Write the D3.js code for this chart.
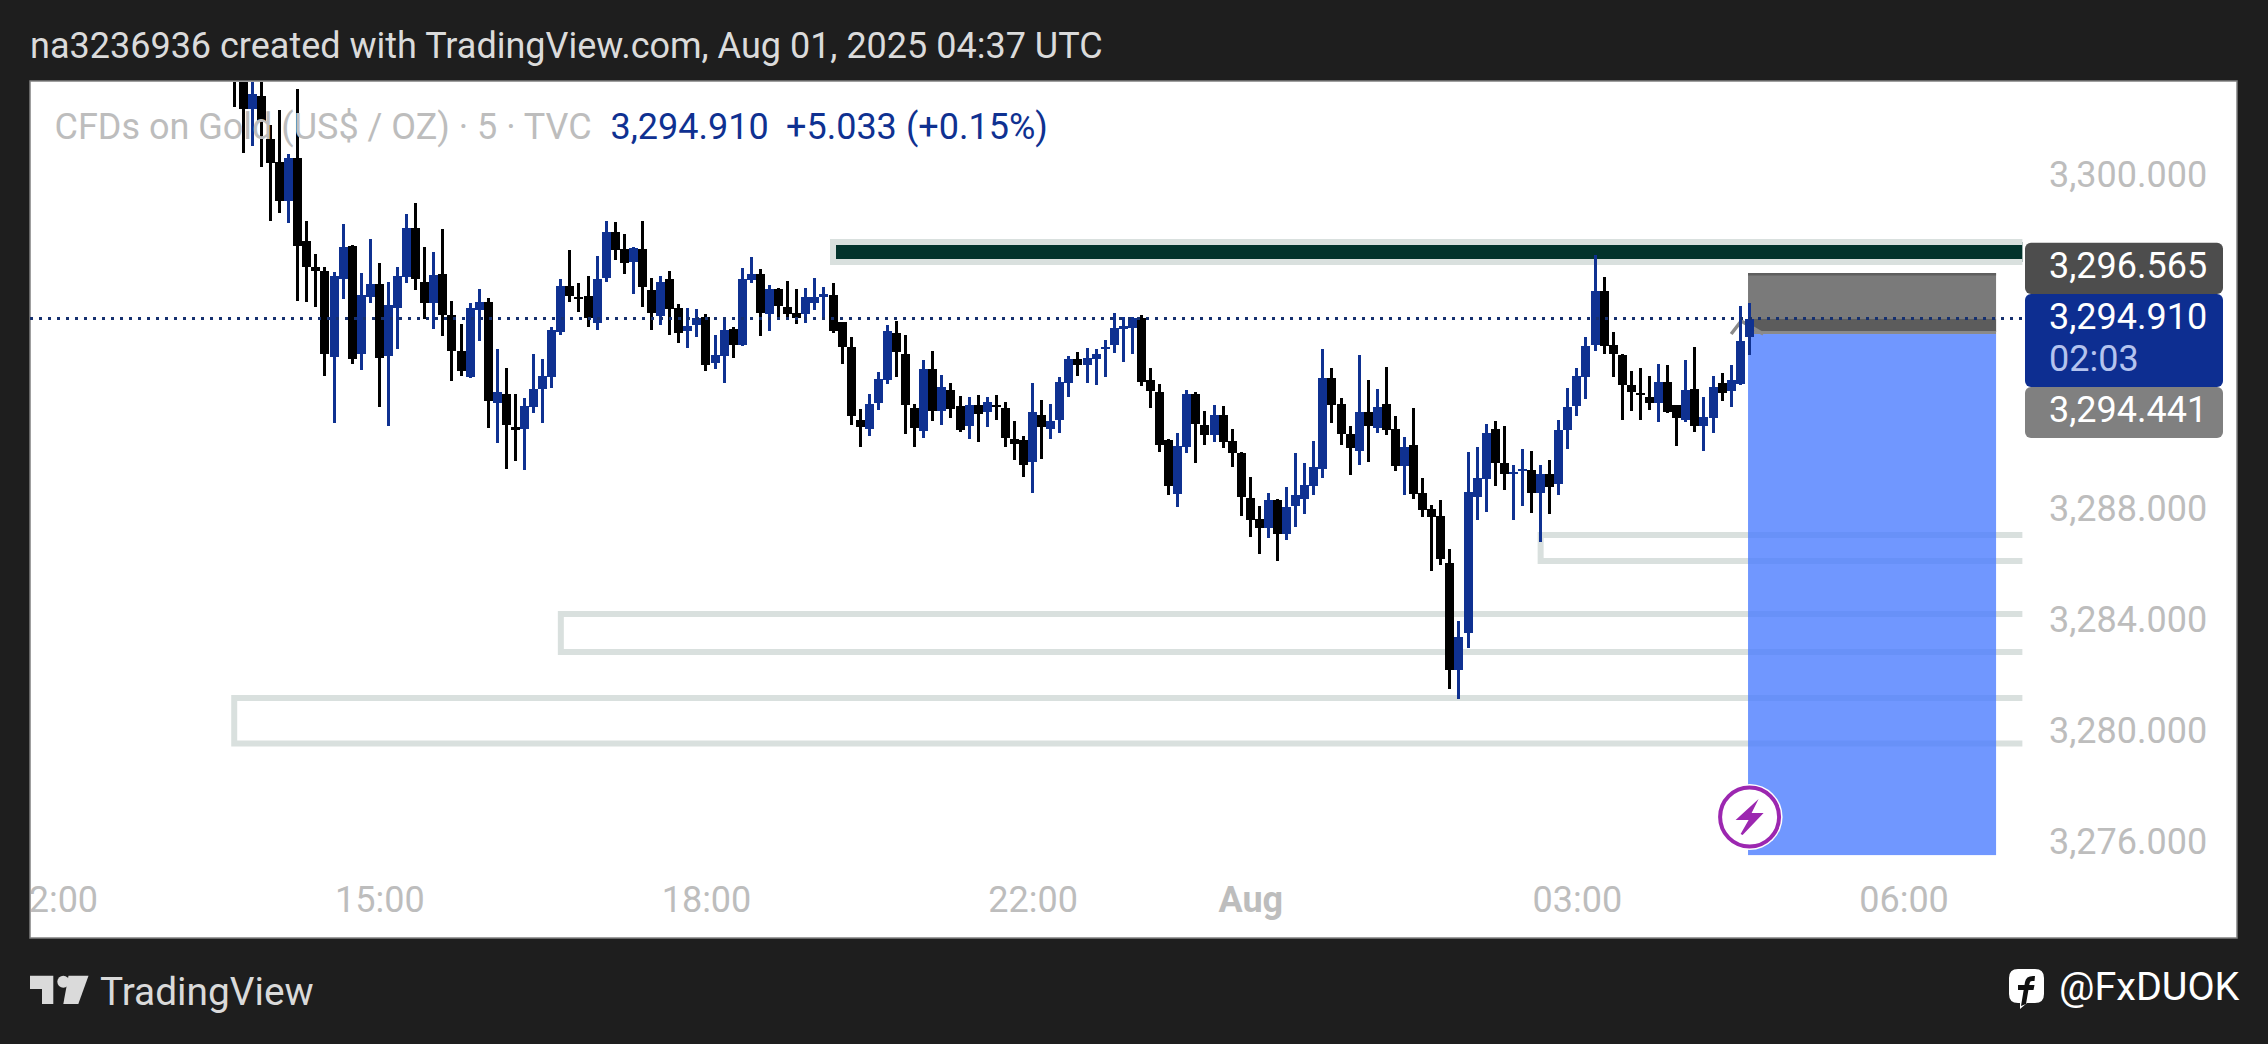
<!DOCTYPE html>
<html><head><meta charset="utf-8">
<style>html,body{margin:0;padding:0;background:#1e1e1e;overflow:hidden}svg{display:block}text{font-family:Roboto,sans-serif}</style>
<script src="https://cdn.jsdelivr.net/npm/d3@7"></script>
</head><body><svg id="c" width="2268" height="1044"></svg>
<script>
const opens=[3304.9,3304.6,3302.458,3302.938,3301.378,3300.574,3299.17,3300.694,3297.706,3296.77,
3296.626,3293.554,3296.35,3297.538,3293.65,3295.714,3296.17,3293.578,3295.318,3296.41,
3298.186,3296.242,3295.498,3296.518,3295.042,3293.758,3292.822,3295.246,3295.522,3291.898,
3292.21,3291.01,3290.962,3291.754,3292.39,3292.834,3294.442,3296.098,3295.69,3295.738,
3294.766,3296.386,3298.042,3297.43,3296.974,3297.43,3295.954,3295.018,3296.338,3295.294,
3294.49,3294.694,3294.97,3293.338,3293.59,3294.55,3293.962,3296.314,3296.53,3295.102,
3295.978,3295.33,3295.114,3295.09,3295.498,3295.714,3295.774,3294.79,3293.902,3291.274,
3290.95,3291.886,3292.726,3294.406,3293.65,3291.706,3290.878,3293.11,3291.598,3292.354,
3291.778,3291.058,3291.814,3291.562,3291.814,3291.706,3290.59,3290.554,3289.774,3291.454,
3290.95,3291.274,3292.606,3293.47,3293.254,3293.47,3293.818,3293.974,3294.55,3294.586,
3294.946,3292.714,3292.282,3290.554,3288.622,3290.314,3292.21,3291.094,3290.734,3291.454,
3290.518,3290.086,3288.466,3287.71,3287.386,3288.394,3287.17,3288.178,3288.43,3288.898,
3289.51,3292.786,3291.85,3290.77,3290.158,3291.562,3290.986,3291.85,3290.95,3289.618,
3290.374,3288.646,3288.07,3287.818,3286.114,3282.274,3283.606,3288.514,3289.162,3290.938,
3289.714,3289.342,3289.438,3289.474,3288.658,3289.318,3288.982,3290.914,3291.778,3292.834,
3293.974,3295.918,3293.962,3293.614,3292.522,3292.234,3292.09,3291.898,3292.63,3291.802,
3291.262,3292.378,3291.07,3291.358,3292.594,3292.318,3292.558,3294.274];
const highs=[3305.5,3305,3304.5,3304.2,3301.894,3302.434,3300.85,3303.19,3298.438,3297.25,
3296.794,3296.602,3298.33,3297.574,3296.566,3297.79,3296.926,3296.242,3296.782,3298.69,
3299.086,3297.502,3297.322,3298.15,3295.558,3294.73,3295.474,3295.978,3295.654,3293.818,
3293.134,3292.21,3292.066,3293.65,3293.47,3294.61,3296.338,3297.394,3296.194,3296.458,
3297.178,3298.438,3298.402,3297.97,3297.514,3298.438,3296.386,3296.458,3296.626,3295.438,
3295.294,3295.27,3295.078,3294.334,3294.97,3294.61,3296.746,3297.13,3296.698,3296.122,
3296.014,3296.266,3295.978,3296.014,3296.386,3296.05,3296.206,3294.814,3294.25,3291.67,
3292.21,3293.002,3294.694,3294.838,3294.334,3291.85,3293.434,3293.758,3292.894,3292.594,
3292.138,3292.102,3292.174,3292.102,3292.174,3291.922,3291.238,3290.698,3292.606,3291.994,
3291.85,3292.822,3293.578,3293.722,3293.866,3293.83,3294.154,3295.114,3294.97,3294.97,
3295.054,3293.146,3292.57,3290.59,3290.806,3292.354,3292.282,3291.598,3291.814,3291.778,
3290.95,3290.122,3289.222,3288.178,3288.646,3288.418,3288.862,3290.086,3289.726,3290.518,
3293.83,3293.146,3292.066,3291.058,3293.614,3292.714,3292.39,3293.182,3291.418,3290.662,
3291.706,3289.186,3288.214,3288.394,3286.63,3284.026,3290.11,3290.29,3291.13,3291.226,
3291.058,3289.642,3290.218,3290.146,3289.642,3289.822,3291.262,3292.414,3293.134,3294.25,
3297.214,3296.41,3294.43,3293.65,3293.026,3293.134,3292.846,3293.278,3293.242,3291.802,
3293.422,3293.89,3292.09,3292.846,3292.954,3293.242,3295.366,3295.474];
const lows=[3302.554,3300.898,3301.138,3300.37,3298.45,3298.738,3298.378,3295.57,3295.534,3295.354,
3292.87,3291.178,3295.642,3293.302,3293.086,3295.474,3291.754,3291.07,3293.842,3296.218,
3295.954,3294.922,3294.562,3294.31,3292.69,3292.87,3292.798,3294.13,3290.998,3290.458,
3289.522,3289.81,3289.486,3291.538,3291.178,3292.438,3294.346,3295.534,3295.174,3294.634,
3294.526,3296.254,3297.034,3296.542,3295.822,3295.354,3294.526,3294.694,3294.346,3294.058,
3293.878,3294.274,3293.05,3293.11,3292.618,3293.518,3293.938,3296.218,3294.31,3294.49,
3294.934,3294.898,3294.742,3294.778,3295.234,3294.898,3294.418,3293.302,3291.106,3290.314,
3290.71,3291.646,3292.582,3292.822,3290.782,3290.314,3290.638,3291.25,3291.106,3291.358,
3290.854,3290.602,3290.494,3291.034,3291.286,3290.314,3289.846,3289.234,3288.658,3289.882,
3290.602,3290.818,3292.114,3292.87,3292.606,3292.546,3292.834,3293.698,3293.374,3293.662,
3292.51,3291.718,3290.134,3288.586,3288.154,3290.098,3289.738,3290.386,3290.494,3290.278,
3289.594,3287.83,3287.074,3286.462,3287.038,3286.21,3286.966,3287.434,3287.902,3288.586,
3289.198,3291.166,3290.386,3289.306,3289.666,3289.774,3290.818,3290.734,3289.45,3288.586,
3288.442,3287.794,3285.85,3286.066,3281.602,3281.242,3283.078,3287.686,3287.974,3288.91,
3288.766,3287.686,3288.19,3287.938,3286.894,3287.902,3288.586,3290.242,3291.43,3292.042,
3293.77,3293.662,3292.834,3291.286,3291.61,3291.286,3291.646,3291.214,3291.538,3290.35,
3291.214,3290.854,3290.17,3290.818,3291.958,3291.754,3292.534,3293.626];
const closes=[3304.0,3302.458,3303.01,3302.014,3300.538,3299.17,3300.694,3297.55,3296.77,3296.626,
3293.65,3296.458,3297.49,3293.47,3295.762,3296.17,3293.518,3295.402,3296.458,3298.186,
3296.338,3295.498,3296.494,3295.054,3293.758,3293.038,3295.306,3295.522,3291.97,3292.282,
3291.106,3290.926,3291.778,3292.39,3292.858,3294.514,3296.098,3295.738,3295.618,3294.958,
3296.35,3298.042,3297.394,3296.938,3297.478,3296.074,3295.138,3296.242,3295.27,3294.394,
3294.658,3294.946,3293.254,3293.614,3294.514,3293.974,3296.338,3296.53,3295.126,3295.978,
3295.378,3295.102,3294.946,3295.69,3295.69,3295.798,3294.478,3293.914,3291.418,3291.034,
3291.85,3292.75,3294.478,3293.722,3291.826,3290.986,3293.11,3291.598,3292.462,3291.67,
3290.914,3291.814,3291.49,3291.922,3291.742,3290.638,3290.422,3289.654,3291.562,3291.034,
3291.238,3292.642,3293.47,3293.254,3293.506,3293.65,3293.89,3294.586,3294.658,3294.946,
3292.654,3292.33,3290.386,3288.91,3290.338,3292.21,3291.13,3290.734,3291.454,3290.482,
3290.086,3288.514,3287.686,3287.398,3288.394,3287.182,3288.142,3288.574,3288.934,3289.582,
3292.786,3291.814,3290.77,3290.266,3291.562,3291.058,3291.742,3290.914,3289.618,3290.302,
3288.61,3288.034,3287.782,3286.27,3282.274,3283.45,3288.67,3289.174,3290.794,3289.714,
3289.342,3289.414,3289.51,3288.658,3289.318,3288.874,3290.914,3291.742,3292.858,3293.938,
3295.918,3293.938,3293.638,3292.522,3292.282,3292.162,3291.898,3292.63,3291.55,3291.358,
3292.342,3291.07,3291.37,3292.45,3292.258,3292.702,3294.106,3294.91];

const priceTicks=[3300,3288,3284,3280,3276];
const timeTickBars=[-20,16,52,88,112,148,184];
const timeTickLabels=["12:00","15:00","18:00","22:00","Aug","03:00","06:00"];
const zoneStarts=[0,36,144];
const zoneTops=[3281.266,3284.29,3287.134];
const zoneBottoms=[3279.628,3282.922,3286.198];
const keyZone=[3297.68,3296.96];
const keyZoneStart=66, zoneEnd=197.1;
const lastPrice=3294.910, stopPrice=3296.565, entryPrice=3294.441, targetPrice=3275.61;
const boxStart=166.86, boxEnd=194.2;
const titleText="na3236936 created with TradingView.com, Aug 01, 2025 04:37 UTC";
const legendName="CFDs on Gold (US$ / OZ) · 5 · TVC";
const legendValues=[["3,294.910",610.5],["+5.033",786],["(+0.15%)",906]];

const BLUE="#0f3191",BLACK="#000",ZONE="#d9e0de";
const svg=d3.select("#c");
const plot={l:30,t:81,r:2237,b:938};
const x=d3.scaleLinear().domain([0,167]).range([234.23,1749.3]);
const y=d3.scaleLinear().domain([3276,3300]).range([844.27,177.6]);
const fmt=d3.format(",.3f");

svg.append("rect").attr("width",2268).attr("height",1044).attr("fill","#1e1e1e");
svg.append("rect").attr("x",plot.l).attr("y",plot.t).attr("width",plot.r-plot.l).attr("height",plot.b-plot.t)
  .attr("fill","#fff").attr("stroke","#808080").attr("stroke-width",1.5);
svg.append("clipPath").attr("id","pc").append("rect").attr("x",plot.l+1).attr("y",plot.t+1).attr("width",plot.r-plot.l-2).attr("height",plot.b-plot.t-2);
const g=svg.append("g").attr("clip-path","url(#pc)");

// open-right rectangles
function zonePath(x0,x1,top,bot){return `M${x1},${y(top)}H${x0}V${y(bot)}H${x1}`;}
zoneStarts.forEach((s,i)=>{
  g.append("path").attr("d",zonePath(x(s),x(zoneEnd),zoneTops[i],zoneBottoms[i]))
   .attr("fill","none").attr("stroke",ZONE).attr("stroke-width",6);
});
g.append("path").attr("d",zonePath(x(keyZoneStart),x(zoneEnd),keyZone[0],keyZone[1])+"Z")
 .attr("fill","#02332c").attr("stroke","none");
g.append("path").attr("d",zonePath(x(keyZoneStart),x(zoneEnd),keyZone[0],keyZone[1]))
 .attr("fill","none").attr("stroke",ZONE).attr("stroke-width",6);

// position box
const bx0=x(boxStart),bx1=x(boxEnd);
g.append("rect").attr("x",bx0).attr("width",bx1-bx0).attr("y",y(stopPrice)).attr("height",y(entryPrice)-y(stopPrice)).attr("fill","#7a7a7a");
g.append("rect").attr("x",bx0).attr("width",bx1-bx0).attr("y",y(stopPrice)).attr("height",2.5).attr("fill","#5f5f5f");
g.append("rect").attr("x",bx0).attr("width",bx1-bx0).attr("y",y(lastPrice)).attr("height",y(entryPrice)-y(lastPrice)).attr("fill","#5c5c5c");
g.append("rect").attr("x",bx0).attr("width",bx1-bx0).attr("y",y(entryPrice)-1).attr("height",3).attr("fill","#8a8a8a");
g.append("rect").attr("x",bx0).attr("width",bx1-bx0).attr("y",y(entryPrice)+2).attr("height",y(targetPrice)-y(entryPrice)-2).attr("fill","rgba(74,123,255,.79)");

// entry chevron
g.append("path").attr("d",`M${x(165)},${y(entryPrice)+2}L${x(166)+1},${y(lastPrice)+2}L${x(167)+14},${y(entryPrice)+2}`)
 .attr("fill","none").attr("stroke","#8a8a8a").attr("stroke-width",3.5);

// candles
const bars=d3.range(opens.length).map(i=>({i,o:opens[i],h:highs[i],l:lows[i],c:closes[i]}));
const cg=g.append("g").attr("shape-rendering","crispEdges");
const cs=cg.selectAll("g").data(bars).join("g").attr("fill",d=>d.c>=d.o?BLUE:BLACK);
cs.append("rect").attr("x",d=>Math.round(x(d.i)-1.5)).attr("width",3).attr("y",d=>y(d.h)).attr("height",d=>y(d.l)-y(d.h));
cs.append("rect").attr("x",d=>Math.round(x(d.i)-4.5)).attr("width",9).attr("y",d=>y(Math.max(d.o,d.c))).attr("height",d=>Math.max(2,Math.abs(y(d.o)-y(d.c))));

// last price dotted line
svg.append("line").attr("x1",30).attr("x2",x(zoneEnd)).attr("y1",y(lastPrice)).attr("y2",y(lastPrice))
 .attr("stroke","#16306f").attr("stroke-width",3).attr("stroke-dasharray","3 6").attr("shape-rendering","crispEdges");

// event icon
const ic=svg.append("g").attr("transform","translate(1749.6,817)");
ic.append("circle").attr("r",33).attr("fill","#fff");
ic.append("circle").attr("r",29.5).attr("fill","#fff").attr("stroke","#9c27b0").attr("stroke-width",4);
ic.append("path").attr("d","M9,-18L-14,3H-1L-9,17L-7,18L14,-4H2Z").attr("fill","#9c27b0");

// axes
const ax=d3.axisRight(y).tickValues(priceTicks).tickFormat(fmt).tickSize(0).tickPadding(0);
const ya=svg.append("g").attr("transform","translate(2049,0)").call(ax);
ya.select(".domain").remove();
ya.selectAll("text").attr("fill","#bdbdbd").attr("font-size",36).attr("dy","0.355em").attr("y",-3.5).style("font-family","Roboto");

const timeLabel=d3.scaleOrdinal(timeTickBars,timeTickLabels);
const xa=g.append("g").attr("transform","translate(0,899)").call(d3.axisBottom(x).tickValues(timeTickBars).tickFormat(d=>timeLabel(d)).tickSize(0).tickPadding(0));
xa.select(".domain").remove();
xa.selectAll("text").attr("fill","#bdbdbd").attr("font-size",36).attr("dy","0.355em").attr("y",0).style("font-family","Roboto")
  .attr("font-weight",d=>timeLabel(d)==="Aug"?700:400);

// header and legend
svg.append("text").attr("x",30).attr("y",58).attr("fill","#dbdbdb").attr("font-size",36).text(titleText);
svg.append("text").attr("x",54.5).attr("y",139).attr("fill","#bdbdbd").attr("font-size",36).text(legendName);
legendValues.forEach(([t,px])=>svg.append("text").attr("x",px).attr("y",139).attr("fill",BLUE).attr("font-size",36).text(t));

// price labels
const labels=[
 {top:242.7,h:51.3,fill:"#4d4d4d",lines:[fmt(stopPrice)],color:["#fff"]},
 {top:294,h:93,fill:"#0d2e91",lines:[fmt(lastPrice),"02:03"],color:["#fff","#b4c3ee"]},
 {top:387,h:51,fill:"#808080",lines:[fmt(entryPrice)],color:["#fff"]}];
labels.forEach(l=>{
  svg.append("rect").attr("x",2025).attr("y",l.top).attr("width",198).attr("height",l.h).attr("rx",6).attr("fill",l.fill);
  l.lines.forEach((t,i)=>svg.append("text").attr("x",2049).attr("y",l.top+35+i*41.5).attr("fill",l.color[i]).attr("font-size",36).text(t));
});

// footer
const F="#dadada";
svg.append("path").attr("d","M30,975.7H53.3V1004H42V989H30Z").attr("fill",F);
svg.append("circle").attr("cx",63.3).attr("cy",981.7).attr("r",6).attr("fill",F);
svg.append("path").attr("d","M68.5,975.7H88.5L78.3,1004H63.3Z").attr("fill",F);
svg.append("text").attr("x",100).attr("y",1005).attr("fill",F).attr("font-size",38.8).text("TradingView");
svg.append("path").attr("d","M2018,969H2035Q2044,969 2044,978V994Q2044,1003 2035,1003H2027L2020,1009V1003H2018Q2009,1003 2009,994V978Q2009,969 2018,969Z").attr("fill","#fff");
svg.append("path").attr("d","M2021,1006L2025,982Q2026,976 2033,976L2035,976L2034.5,981H2032Q2030,981 2029.7,983L2029.2,985H2034.5L2033.5,990H2028.4L2026,1004Z M2018,985H2030L2029,990H2018Z").attr("fill","#111");
svg.append("text").attr("x",2059).attr("y",999.5).attr("fill","#fff").attr("font-size",39.5).text("@FxDUOK");
</script></body></html>
